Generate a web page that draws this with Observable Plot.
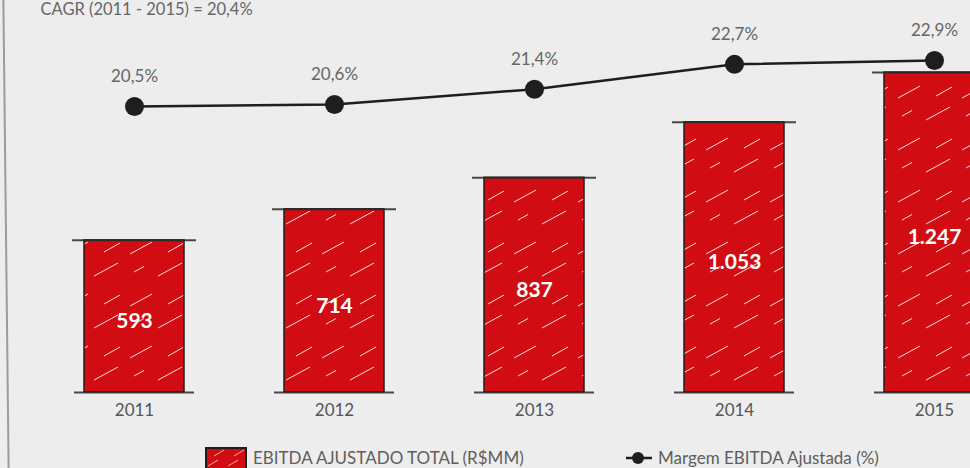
<!DOCTYPE html>
<html><head><meta charset="utf-8">
<script src="https://cdn.jsdelivr.net/npm/d3@7"></script>
<script src="https://cdn.jsdelivr.net/npm/@observablehq/plot@0.6"></script>
<style>
html,body{margin:0;padding:0;background:#ededed;}
#wrap{position:relative;width:970px;height:468px;overflow:hidden;background:#ededed;font-family:Lato,"Open Sans",sans-serif;}
#border{position:absolute;left:5px;top:-6px;width:1.5px;height:482px;background:#9c9c9c;transform:rotate(-0.64deg);}
.legend{position:absolute;top:447px;height:22px;display:flex;align-items:center;font-size:17px;color:#5e5e5e;white-space:nowrap;}
.legend span{margin-left:6px;line-height:22px;}
</style></head><body>
<div id="wrap">
<div id="chart"></div>
<div id="border"></div>
<div class="legend" style="left:205px">
<svg width="42" height="22"><defs><pattern id="hatchL" patternUnits="userSpaceOnUse" width="20" height="22"><rect width="20" height="22" fill="#d20c13"/><path d="M3 19 L13 13 M9 9 L19 3" stroke="#fff" stroke-width="0.8" opacity="0.8"/></pattern></defs><rect x="1" y="1" width="40" height="21" fill="url(#hatchL)" stroke="#1e1e1e" stroke-width="2"/></svg>
<span>EBITDA AJUSTADO TOTAL (R$MM)</span></div>
<div class="legend" style="left:626px">
<svg width="26" height="22"><line x1="0" y1="11" x2="26" y2="11" stroke="#1e1e1e" stroke-width="2.5"/><circle cx="12" cy="11" r="6" fill="#1e1e1e"/></svg>
<span>Margem EBITDA Ajustada (%)</span></div>
</div>
<script>
// ---- data ----
const years = ["2011", "2012", "2013", "2014", "2015"];
const ebitda = [593, 714, 837, 1053, 1247];          // R$ MM
const margem = [20.5, 20.6, 21.4, 22.7, 22.9];       // %
const title = "CAGR (2011 - 2015) = 20,4%";

const data = years.map((y, i) => ({year: y, ebitda: ebitda[i], margem: margem[i]}));

const loc = d3.formatLocale({decimal: ",", thousands: ".", grouping: [3], currency: ["R$", ""]});
const fmtNum = loc.format(",d");
const fmtPct = v => loc.format(".1f")(v) + "%";

// secondary axis: map margin (%) into bar units
const pctToBar = d3.scaleLinear().domain([20.5, 22.9]).range([1115, 1294]);

const red = "#d20c13";
const dark = "#1e1e1e";

const chart = Plot.plot({
  width: 970,
  height: 468,
  marginTop: 0,
  marginBottom: 76,
  marginLeft: 0,
  marginRight: 0,
  style: {background: "transparent", fontFamily: "Lato, 'Open Sans', sans-serif", fontSize: "17px", overflow: "hidden"},
  x: {domain: years, range: [-2, 1070.5], paddingInner: 0.5, paddingOuter: 0.418, label: null},
  y: {domain: [0, 1528], axis: null},
  marks: [
    Plot.barY(data, {x: "year", y: "ebitda", fill: "url(#hatch)", stroke: dark, strokeWidth: 1.5}),
    Plot.tickY(data, {x: "year", y: "ebitda", insetLeft: -12, insetRight: -12, stroke: "#2a2a2a", strokeWidth: 2, strokeOpacity: 0.85}),
    Plot.tickY(data, {x: "year", y: () => 0, insetLeft: -10, insetRight: -10, stroke: "#2a2a2a", strokeWidth: 2, strokeOpacity: 0.85}),
    Plot.axisX({tickSize: 0, tickPadding: 11, fill: "#555", fontSize: 17}),
    Plot.text(data, {x: "year", y: d => d.ebitda / 2, text: d => fmtNum(d.ebitda), fill: "white", fontWeight: "bold", fontSize: 21, dy: 5}),
    Plot.line(data, {x: "year", y: d => pctToBar(d.margem), stroke: dark, strokeWidth: 2.5}),
    Plot.dot(data, {x: "year", y: d => pctToBar(d.margem), r: 9.5, fill: dark}),
    Plot.text(data, {x: "year", y: d => pctToBar(d.margem), text: d => fmtPct(d.margem), dy: -30, fill: "#666", fontSize: 17}),
    Plot.text([title], {frameAnchor: "top-left", dx: 40, dy: 9, textAnchor: "start", lineAnchor: "middle", fill: "#666", fontSize: 16.5})
  ]
});

// hatch pattern for the bars
const defs = d3.select(chart).insert("defs", ":first-child");
const pat = defs.append("pattern").attr("id", "hatch").attr("patternUnits", "userSpaceOnUse")
  .attr("width", 64).attr("height", 52);
pat.append("rect").attr("width", 64).attr("height", 52).attr("fill", red);
pat.append("path")
  .attr("d", "M2 46 L24 34 M30 16 L54 3 M40 44 L56 35 M6 12 L16 6.5")
  .attr("stroke", "#fff").attr("stroke-width", 1).attr("opacity", 0.85);

document.getElementById("chart").appendChild(chart);
</script>
</body></html>
